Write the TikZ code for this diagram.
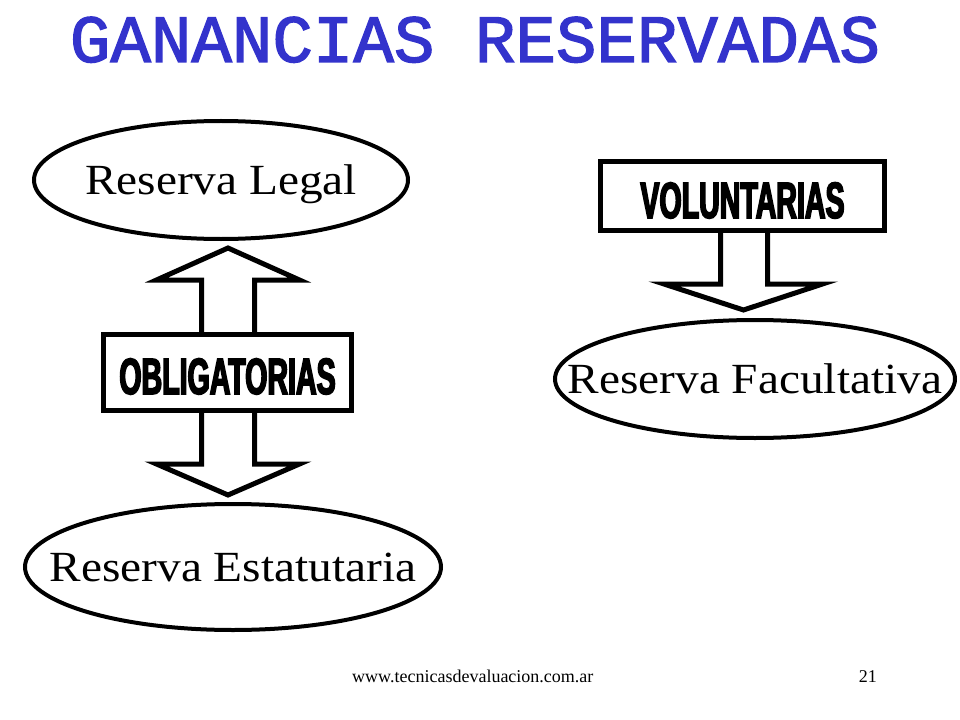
\documentclass[tikz,border=0pt]{standalone}
\usepackage{fontspec}
\setmainfont{Liberation Serif}
\newfontfamily\reservafont[FakeStretch=1.1]{Liberation Serif}
\newfontfamily\titlefont[FakeBold=2]{Liberation Mono}
\newfontfamily\tagfont[FakeStretch=0.56,FakeBold=3]{Liberation Sans Bold}
\usetikzlibrary{shapes.geometric}
\definecolor{titleblue}{RGB}{51,51,204}
\begin{document}
\begin{tikzpicture}[x=1bp, y=-1bp,
    reserva/.style={draw, ellipse, line width=4bp, inner sep=0pt},
    every label/.style={font=\reservafont\fontsize{43bp}{43bp}\selectfont, text height=29bp, text depth=0pt, inner sep=0pt},
    tagbox/.style={draw, fill=white, line width=5bp, inner sep=0pt, text height=44bp, text depth=0pt, font=\tagfont\fontsize{51bp}{51bp}\selectfont},
    blockarrow/.style={draw, fill=white, line width=5bp, miter limit=10},
    pie/.style={inner sep=0pt, font=\fontsize{18bp}{18bp}\selectfont}]
    \useasboundingbox (0,0) rectangle (960,720);
    \node[anchor=base, inner sep=0pt, text=titleblue, font=\titlefont\fontsize{67.5bp}{70bp}\selectfont] (titulo) at (475,62) {GANANCIAS RESERVADAS};
    \node[reserva, minimum width=374bp, minimum height=118bp, label=center:Reserva Legal] (legal) at (221,180) {};
    \node[reserva, minimum width=416bp, minimum height=126bp, label=center:Reserva Estatutaria] (estatutaria) at (233,567) {};
    \node[reserva, minimum width=400bp, minimum height=118bp, label=center:Reserva Facultativa] (facultativa) at (755,379) {};
    \draw[blockarrow] (228,248) -- (299.5,280) -- (254.5,280) -- (254.5,464) -- (299.5,464) -- (228,495)
        -- (156.5,464) -- (201.5,464) -- (201.5,280) -- (156.5,280) -- cycle;
    \node[tagbox, minimum width=247bp, minimum height=76bp] (obligatorias) at (227.5,372) {OBLIGATORIAS};
    \draw[blockarrow] (720.5,200) -- (720.5,284) -- (664,284) -- (743.5,310) -- (822.5,284) -- (767.5,284) -- (767.5,200) -- cycle;
    \node[tagbox, minimum width=284bp, minimum height=69bp] (voluntarias) at (742.5,196) {VOLUNTARIAS};
    \node[pie, anchor=base west] (web) at (352,682) {www.tecnicasdevaluacion.com.ar};
    \node[pie, anchor=base east] (pagina) at (877,682) {21};
\end{tikzpicture}
\end{document}
